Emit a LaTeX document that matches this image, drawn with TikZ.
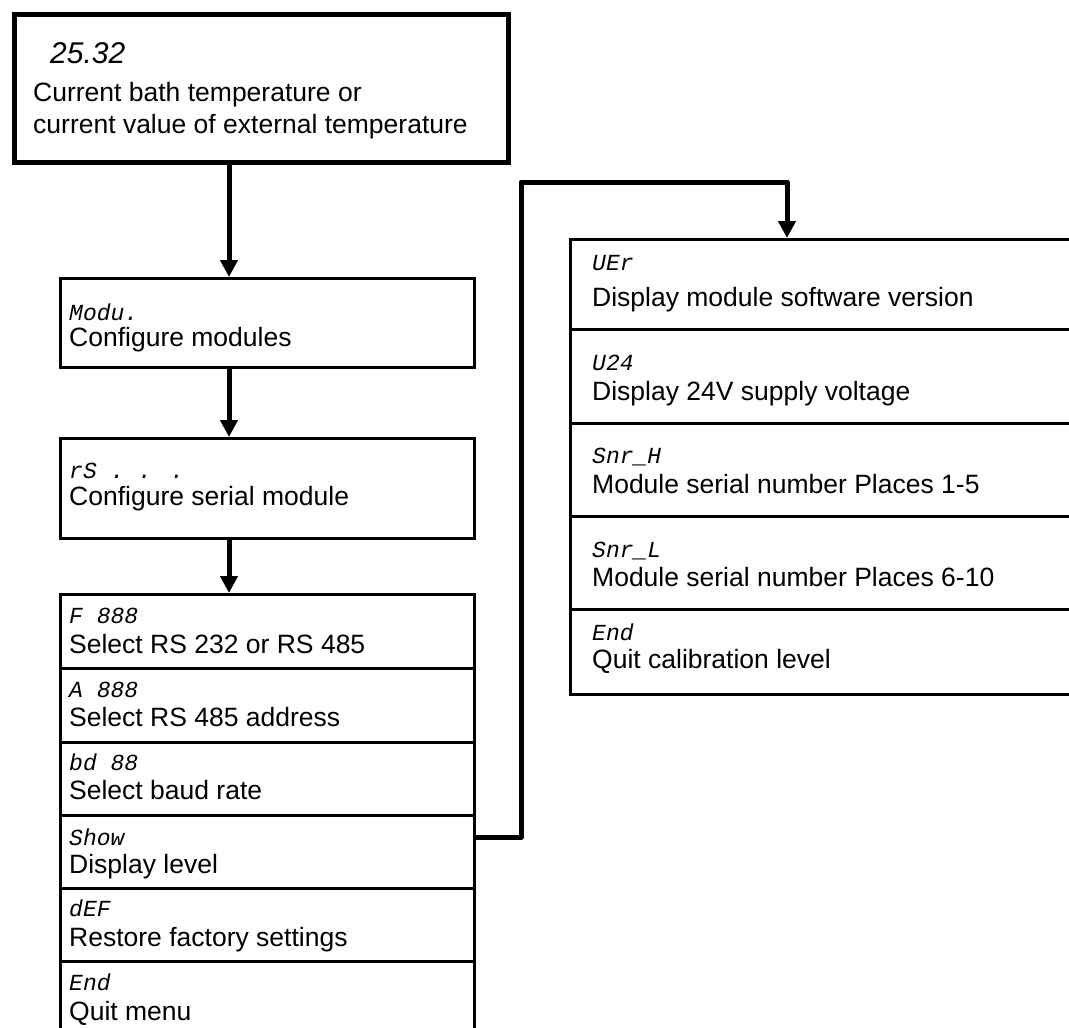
\documentclass[tikz,border=0pt]{standalone}
\usepackage{fontspec}
\setmainfont{Liberation Sans}
\newfontfamily\segfont{Liberation Mono}
\newfontfamily\segsans{Liberation Sans}
\usetikzlibrary{arrows.meta}
\begin{document}
\begin{tikzpicture}[x=1pt,y=-1pt,
  box/.style={draw, line width=2.5pt, inner sep=0pt, anchor=north west},
  conn/.style={line width=5pt, line join=round, -{Triangle[length=17pt,width=17pt]}},
  lbl/.style={anchor=base west, inner sep=0pt, font=\fontsize{26.5}{32}\selectfont},
  code/.style={anchor=base west, inner sep=0pt, font=\segfont\itshape\fontsize{23}{26}\selectfont}]
\useasboundingbox (0,0) rectangle (1069,1028);
% boxes
\node[box, line width=5pt, minimum width=494pt, minimum height=148pt] (top) at (12,12) {};
\node[box, minimum width=414pt, minimum height=89pt] (modu) at (59,277) {};
\node[box, minimum width=414pt, minimum height=100pt] (rs) at (59,437) {};
\node[box, minimum width=414pt, minimum height=74pt] (f) at (59,593) {};
\node[box, minimum width=414pt, minimum height=74pt] (a) at (59,667) {};
\node[box, minimum width=414pt, minimum height=73pt] (bd) at (59,741) {};
\node[box, minimum width=414pt, minimum height=73pt] (show) at (59,814) {};
\node[box, minimum width=414pt, minimum height=73pt] (def) at (59,887) {};
\node[box, minimum width=414pt, minimum height=75pt] (endm) at (59,960) {};
\node[box, minimum width=506pt, minimum height=90pt] (ver) at (569,238) {};
\node[box, minimum width=506pt, minimum height=94pt] (u24) at (569,328) {};
\node[box, minimum width=506pt, minimum height=93pt] (snrh) at (569,422) {};
\node[box, minimum width=506pt, minimum height=93pt] (snrl) at (569,515) {};
\node[box, minimum width=506pt, minimum height=85pt] (endc) at (569,608) {};
% texts
\node[anchor=base west, inner sep=0pt, font=\segsans\itshape\fontsize{30}{32}\selectfont] (t0) at (50,63) {25.32};
\node[lbl] (t1) at (33,101) {Current bath temperature or};
\node[lbl] (t2) at (33,133) {current value of external temperature};
\node[code] (c1) at (69,320) {Modu.};
\node[lbl] (l1) at (69,346) {Configure modules};
\node[code] (c2) at (69,478) {rS . . .};
\node[lbl] (l2) at (69,505) {Configure serial module};
\node[code] (c3) at (69,623) {F 888};
\node[lbl] (l3) at (69,653) {Select RS 232 or RS 485};
\node[code] (c4) at (69,697) {A 888};
\node[lbl] (l4) at (69,726) {Select RS 485 address};
\node[code] (c5) at (69,770) {bd 88};
\node[lbl] (l5) at (69,799) {Select baud rate};
\node[code] (c6) at (69,845) {Show};
\node[lbl] (l6) at (69,873) {Display level};
\node[code] (c7) at (69,916) {dEF};
\node[lbl] (l7) at (69,946) {Restore factory settings};
\node[code] (c8) at (69,990) {End};
\node[lbl] (l8) at (69,1020) {Quit menu};
\node[code] (c9) at (592,270) {UEr};
\node[lbl] (l9) at (592,306) {Display module software version};
\node[code] (c10) at (592,370) {U24};
\node[lbl] (l10) at (592,400) {Display 24V supply voltage};
\node[code] (c11) at (592,463) {Snr\_H};
\node[lbl] (l11) at (592,493) {Module serial number Places 1-5};
\node[code] (c12) at (592,557) {Snr\_L};
\node[lbl] (l12) at (592,586) {Module serial number Places 6-10};
\node[code] (c13) at (592,640) {End};
\node[lbl] (l13) at (592,668) {Quit calibration level};
% connectors
\coordinate (ax) at (229,0);
\coordinate (jy) at (0,837);
\coordinate (k1) at (521,837);
\coordinate (k2) at (521,182);
\coordinate (k3) at (787,182);
\draw[conn] (top.south -| ax) -- (modu.north -| ax);
\draw[conn] (modu.south -| ax) -- (rs.north -| ax);
\draw[conn] (rs.south -| ax) -- (f.north -| ax);
\draw[conn] (show.east |- jy) -- (k1) -- (k2) -- (k3) -- (ver.north -| k3);
\end{tikzpicture}
\end{document}
